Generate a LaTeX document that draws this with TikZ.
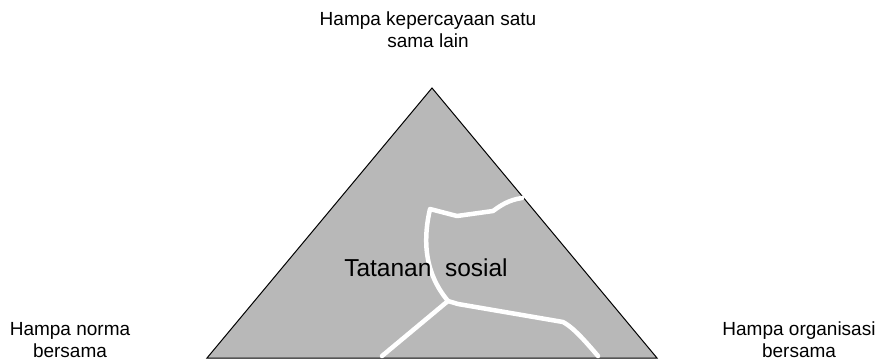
\documentclass[tikz,border=0pt]{standalone}
\usepackage{fontspec}
\setmainfont{Liberation Sans}
\definecolor{trigray}{HTML}{B8B8B8}
\begin{document}
\begin{tikzpicture}[x=1pt,y=-1pt,
  lbl/.style={align=center,font=\fontsize{19}{22}\selectfont,inner sep=0pt,anchor=base},
  crack/.style={draw=white,line width=4.5pt,line cap=round,line join=round}]
\useasboundingbox (0,0) rectangle (882,361);
\coordinate (A) at (432,88);
\coordinate (L) at (207,358);
\coordinate (R) at (657,358);
\filldraw[fill=trigray,draw=black,line width=1pt] (A) -- (L) -- (R) -- cycle;
\coordinate (J) at (448,301);
\coordinate (c1) at (522,198);
\coordinate (c2) at (382,356);
\coordinate (c3) at (598,356);
\draw[crack] (c1) .. controls (508,200) and (500,206) .. (493,211)
  -- (457,216) -- (430,209) .. controls (424,235) and (422,270) .. (J);
\draw[crack] (J) -- (c2);
\draw[crack] (J) -- (458,304) -- (563,322) .. controls (572,327) and (580,335) .. (c3);
\node[lbl,font=\fontsize{24.5}{28}\selectfont] (t) at (426,276) {Tatanan\ \ sosial};
\node[lbl] (top) at (428,48) {Hampa kepercayaan satu\\sama lain};
\node[lbl] (left) at (70,357) {Hampa norma\\bersama};
\node[lbl] (right) at (799,357) {Hampa organisasi\\bersama};
\end{tikzpicture}
\end{document}
